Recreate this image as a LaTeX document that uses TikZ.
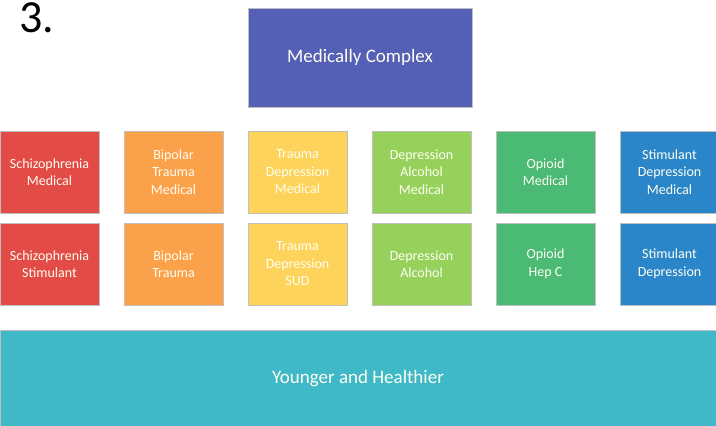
\documentclass[tikz,border=0pt]{standalone}
\usepackage{fontspec}
\setmainfont{Carlito}
\usepackage{xcolor}
\definecolor{topblue}{HTML}{545FB6}
\definecolor{schizred}{HTML}{E24B46}
\definecolor{bipolarorange}{HTML}{FBA149}
\definecolor{traumayellow}{HTML}{FDD35B}
\definecolor{alcoholgreen}{HTML}{96D15C}
\definecolor{opioidgreen}{HTML}{4ABA75}
\definecolor{stimblue}{HTML}{2A86C9}
\definecolor{healthyteal}{HTML}{3FB9C8}

\begin{document}
\begin{tikzpicture}
    [x=1pt, y=-1pt,
    cell/.style={rectangle, minimum width=99pt, minimum height=82pt, inner sep=0pt, draw=black!25, line width=0.6pt, text=white!95!yellow, align=center, font=\fontsize{14}{17.5}\selectfont},
    band/.style={rectangle, inner sep=0pt, draw=black!25, line width=0.6pt, text=white!95!yellow, font=\fontsize{19}{23}\selectfont}]
\useasboundingbox (0,0) rectangle (716,426);
\node[anchor=base west, inner sep=0pt, font=\fontsize{46}{46}\selectfont] (num) at (19,32) {3.};
\node[band, fill=topblue, minimum width=224pt, minimum height=99pt] (complex) at (360,57.5) {Medically Complex};
% top row
\node[cell, fill=schizred] (schizA) at (49.5,172) {Schizophrenia\\Medical};
\node[cell, fill=bipolarorange] (bipolarA) at (173.5,172) {Bipolar\\Trauma\\Medical};
\node[cell, fill=traumayellow] (traumaA) at (297.5,172) {Trauma\\Depression\\Medical};
\node[cell, fill=alcoholgreen] (alcoholA) at (421.5,172) {Depression\\Alcohol\\Medical};
\node[cell, fill=opioidgreen] (opioidA) at (545.5,172) {Opioid\\Medical};
\node[cell, fill=stimblue] (stimA) at (669.5,172) {Stimulant\\Depression\\Medical};
% bottom row
\node[cell, fill=schizred] (schizB) at (49.5,264) {Schizophrenia\\Stimulant};
\node[cell, fill=bipolarorange] (bipolarB) at (173.5,264) {Bipolar\\Trauma};
\node[cell, fill=traumayellow] (traumaB) at (297.5,264) {Trauma\\Depression\\SUD};
\node[cell, fill=alcoholgreen] (alcoholB) at (421.5,264) {Depression\\Alcohol};
\node[cell, fill=opioidgreen] (opioidB) at (545.5,264) {Opioid\\Hep C};
\node[cell, fill=stimblue] (stimB) at (669.5,264) {Stimulant\\Depression};
\node[band, fill=healthyteal, minimum width=716pt, minimum height=97pt] (healthy) at (358,379) {Younger and Healthier};
\end{tikzpicture}
\end{document}
